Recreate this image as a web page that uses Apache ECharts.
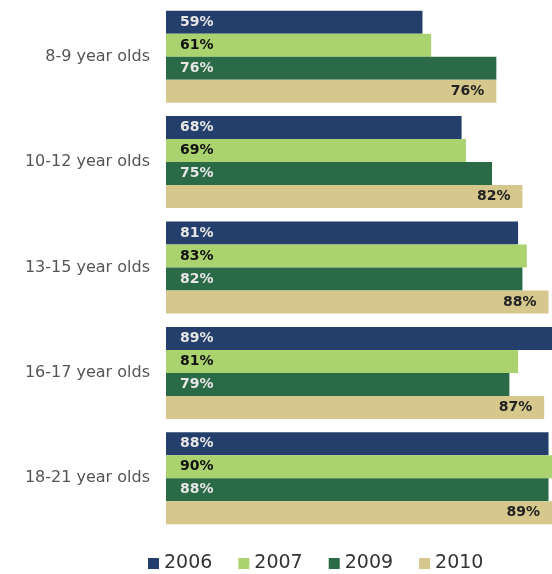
<!DOCTYPE html>
<html><head><meta charset="utf-8">
<script src="https://cdn.jsdelivr.net/npm/echarts@6/dist/echarts.min.js"></script>
<style>html,body{margin:0;padding:0;background:#fff}#c{width:552px;height:574px}</style>
</head><body><div id="c"></div>
<script>
const categories = ['8-9 year olds','10-12 year olds','13-15 year olds','16-17 year olds','18-21 year olds'];
const years = ['2006','2007','2009','2010'];
const v2006 = [59, 68, 81, 89, 88];
const v2007 = [61, 69, 83, 81, 90];
const v2009 = [76, 75, 82, 79, 88];
const v2010 = [76, 82, 88, 87, 89];
const colors = ['#243f6b','#aad36f','#2b6a46','#d6c78d'];
const labelColors = ['#e6e6e6','#111111','#e6e6e6','#222222'];
const labelPos = ['insideLeft','insideLeft','insideLeft','insideRight'];
const values = [v2006, v2007, v2009, v2010];

const chart = echarts.init(document.getElementById('c'));
chart.setOption({
  animation:false,
  grid:{left:166,right:0,top:4,height:527},
  legend:{left:143,top:549,itemWidth:11,itemHeight:11,itemGap:26,icon:'rect',
    textStyle:{fontFamily:'DejaVu Sans',fontSize:19,color:'#333'},data:years},
  xAxis:{type:'value',min:0,max:88.8,show:false},
  yAxis:{type:'category',data:categories,inverse:true,
    axisLine:{show:false},axisTick:{show:false},
    axisLabel:{margin:16,fontFamily:'DejaVu Sans',fontSize:16,color:'#555'}},
  series: years.map((y,i)=>({
    name:y,type:'bar',data:values[i],barWidth:23,barGap:'0%',
    itemStyle:{color:colors[i]},
    label:{show:true,position:labelPos[i],distance:i===3?12:14,
      formatter:'{c}%',fontFamily:'DejaVu Sans',fontWeight:'bold',fontSize:14,color:labelColors[i]}
  }))
});
</script></body></html>
